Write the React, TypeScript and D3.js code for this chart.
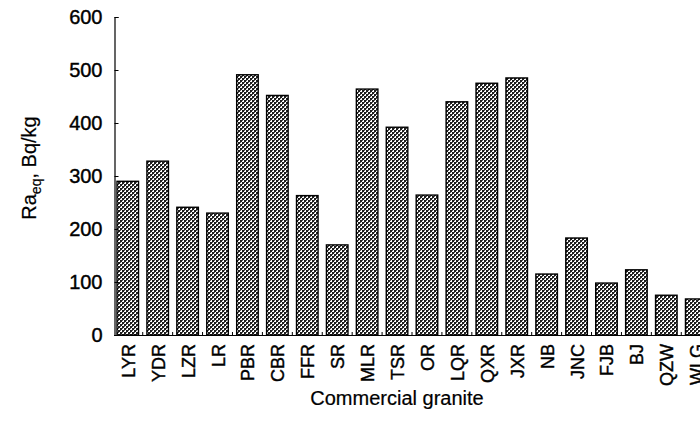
import React, { useRef, useEffect } from 'react';
import { select, scaleBand, scaleLinear, axisLeft } from 'd3';

const categories = ['LYR', 'YDR', 'LZR', 'LR', 'PBR', 'CBR', 'FFR', 'SR', 'MLR', 'TSR',
  'OR', 'LQR', 'QXR', 'JXR', 'NB', 'JNC', 'FJB', 'BJ', 'QZW', 'WLG'];
const raEq = [290, 328, 241, 230, 491, 452, 263, 170, 464, 392,
  264, 440, 475, 485, 115, 183, 98, 123, 75, 68];
const yTicks = [0, 100, 200, 300, 400, 500, 600];

function App() {
  const ref = useRef<SVGSVGElement>(null);

  useEffect(() => {
    const svg = select(ref.current);
    svg.selectAll('*').remove();

    const font = '"Liberation Sans", Arial, sans-serif';
    const heavy = 0.4; // scanned text looks a bit thicker

    // checkerboard fill for the bars
    const defs = svg.append('defs');
    const pat = defs.append('pattern')
      .attr('id', 'checker')
      .attr('patternUnits', 'userSpaceOnUse')
      .attr('width', 4)
      .attr('height', 4);
    pat.append('rect').attr('width', 4).attr('height', 4).attr('fill', '#fff');
    pat.append('rect').attr('x', 0).attr('y', 0).attr('width', 2).attr('height', 2).attr('fill', '#1e1e1e');
    pat.append('rect').attr('x', 2).attr('y', 2).attr('width', 2).attr('height', 2).attr('fill', '#1e1e1e');
    pat.append('rect').attr('x', 2).attr('y', 0).attr('width', 1).attr('height', 1).attr('fill', '#555');
    pat.append('rect').attr('x', 0).attr('y', 2).attr('width', 1).attr('height', 1).attr('fill', '#555');

    const x = scaleBand<string>()
      .domain(categories)
      .range([114, 710])
      .paddingInner(0.28)
      .paddingOuter(0.1);

    const y = scaleLinear()
      .domain([0, 600])
      .range([335, 17]);

    // bars
    svg.append('g')
      .selectAll('rect')
      .data(categories)
      .join('rect')
      .attr('x', d => x(d)!)
      .attr('y', (d, i) => y(raEq[i]))
      .attr('width', x.bandwidth())
      .attr('height', (d, i) => y(0) - y(raEq[i]))
      .attr('fill', 'url(#checker)')
      .attr('stroke', '#000')
      .attr('stroke-width', 1.4);

    // y axis, ticks pointing inward
    const yAxis = svg.append('g')
      .attr('transform', 'translate(114.5,0)')
      .call(axisLeft(y).tickValues(yTicks).tickSize(-4).tickPadding(12));
    yAxis.select('.domain').attr('stroke', '#000').attr('stroke-width', 1.2);
    yAxis.selectAll('.tick line').attr('stroke', '#000');
    yAxis.selectAll('.tick text')
      .attr('font-family', font)
      .attr('font-size', 20)
      .attr('fill', '#000')
      .attr('stroke', '#000')
      .attr('stroke-width', heavy);

    // x baseline with small ticks between bars
    svg.append('line')
      .attr('x1', 114).attr('x2', 700)
      .attr('y1', y(0) + 0.5).attr('y2', y(0) + 0.5)
      .attr('stroke', '#000')
      .attr('stroke-width', 1.2);
    svg.append('g')
      .selectAll('line')
      .data(categories.slice(1))
      .join('line')
      .attr('x1', d => x(d)! - x.step() * x.paddingInner() / 2)
      .attr('x2', d => x(d)! - x.step() * x.paddingInner() / 2)
      .attr('y1', y(0))
      .attr('y2', y(0) - 3)
      .attr('stroke', '#000');

    // category labels, rotated
    svg.append('g')
      .selectAll('text')
      .data(categories)
      .join('text')
      .attr('transform', d => `translate(${x(d)! + x.bandwidth() / 2 + 7},344) rotate(-90)`)
      .attr('text-anchor', 'end')
      .attr('font-family', font)
      .attr('font-size', 18)
      .attr('fill', '#000')
      .attr('stroke', '#000')
      .attr('stroke-width', heavy)
      .text(d => d);

    // axis titles
    svg.append('text')
      .attr('x', 397)
      .attr('y', 405)
      .attr('text-anchor', 'middle')
      .attr('font-family', font)
      .attr('font-size', 20)
      .attr('fill', '#000')
      .attr('stroke', '#000')
      .attr('stroke-width', 0.2)
      .text('Commercial granite');

    const yTitle = svg.append('text')
      .attr('transform', 'translate(36,168) rotate(-90)')
      .attr('text-anchor', 'middle')
      .attr('font-family', font)
      .attr('font-size', 20)
      .attr('fill', '#000')
      .attr('stroke', '#000')
      .attr('stroke-width', 0.2);
    yTitle.append('tspan').text('Ra');
    yTitle.append('tspan').attr('font-size', 14).attr('dy', 5).text('eq');
    yTitle.append('tspan').attr('dy', -5).text(', Bq/kg');
  }, []);

  return (
    <svg ref={ref} width={700} height={421}
      style={{ position: 'absolute', left: 0, top: 0, background: '#fff' }} />
  );
}

export default App;
